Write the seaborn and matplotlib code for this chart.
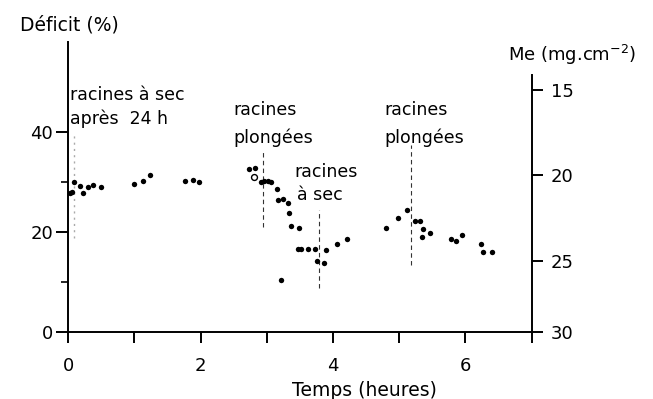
import numpy as np
import pandas as pd
import matplotlib
matplotlib.use("Agg")
import matplotlib.pyplot as plt
import seaborn as sns

# ---- data ----
time_h = [0.02, 0.05, 0.08, 0.18, 0.22, 0.30, 0.37, 0.50, 1.00, 1.13, 1.24, 1.77, 1.88, 1.98,
          2.73, 2.82, 2.91, 2.96, 3.01, 3.06, 3.15, 3.17, 3.24, 3.32, 3.34, 3.37, 3.48, 3.22,
          3.47, 3.52, 3.62, 3.72, 3.76, 3.86, 3.90, 4.06, 4.21, 4.80, 4.98, 5.12, 5.23, 5.32,
          5.36, 5.34, 5.46, 5.78, 5.86, 5.95, 6.23, 6.27, 6.40]
deficit = [27.7, 27.9, 29.9, 29.1, 27.7, 28.9, 29.4, 28.9, 29.5, 30.1, 31.3, 30.1, 30.3, 29.9,
           32.5, 32.7, 29.9, 30.1, 30.1, 29.9, 28.6, 26.3, 26.5, 25.7, 23.7, 21.1, 20.7, 10.3,
           16.5, 16.5, 16.6, 16.6, 14.1, 13.8, 16.3, 17.5, 18.5, 20.7, 22.8, 24.3, 22.1, 22.1,
           20.5, 19.0, 19.7, 18.5, 18.2, 19.4, 17.5, 16.0, 16.0]
open_time = [2.80]
open_deficit = [31.0]

event_time = [0.09, 2.94, 3.79, 5.17]
event_low = [18.7, 21.0, 8.7, 13.3]
event_high = [39.7, 36.3, 24.3, 37.3]

me_labels = ["30", "25", "20", "15"]
me_as_deficit = [0.0, 14.2, 31.3, 48.3]

x_ticks = [0, 1, 2, 3, 4, 5, 6, 7]
x_ticklabels = ["0", "", "2", "", "4", "", "6", ""]
y_ticks = [0, 20, 40]
y_minor = [10, 30]

annotations = [
    ("racines à sec", 0.03, 47.3),
    ("après  24 h", 0.03, 42.7),
    ("racines", 2.49, 44.3),
    ("plongées", 2.49, 38.9),
    ("racines", 3.42, 31.9),
    ("à sec", 3.45, 27.3),
    ("racines", 4.78, 44.3),
    ("plongées", 4.78, 38.9),
]

df = pd.DataFrame({"t": time_h, "d": deficit})
df_open = pd.DataFrame({"t": open_time, "d": open_deficit})

sns.set_style("ticks")
plt.rcParams["font.family"] = ["DejaVu Sans"]
plt.rcParams["font.size"] = 12
for k in ["text.color", "axes.labelcolor", "xtick.color", "ytick.color", "axes.edgecolor"]:
    plt.rcParams[k] = "black"

fig = plt.figure(figsize=(6.53, 3.99), dpi=100)
ax = fig.add_axes([0.1046, 0.1687, 0.7096, 0.7261])

sns.scatterplot(data=df, x="t", y="d", ax=ax, color="black", s=15, edgecolor="black",
                linewidth=0, legend=False, zorder=3)
sns.scatterplot(data=df_open, x="t", y="d", ax=ax, marker="o", facecolor="white",
                edgecolor="black", s=18, linewidth=1.0, legend=False, zorder=3)

# event lines
ax.vlines(event_time[0], event_low[0], event_high[0], colors="#aaaaaa", linestyles=(0, (1.5, 3)),
          linewidth=1.0)
for xe, lo, hi in zip(event_time[1:], event_low[1:], event_high[1:]):
    ax.vlines(xe, lo, hi, colors="#333333", linestyles=(0, (4, 3)), linewidth=0.8)

for txt, xt, yt in annotations:
    ax.text(xt, yt, txt, ha="left", va="center", fontsize=12.5, color="black")

ax.set_xlim(0, 7)
ax.set_ylim(0, 58)
ax.set_xticks(x_ticks)
ax.set_xticklabels(x_ticklabels)
ax.set_yticks(y_ticks)
ax.set_yticks(y_minor, minor=True)
ax.set_xlabel("")
ax.set_ylabel("")

for s in ["top", "right"]:
    ax.spines[s].set_visible(False)
ax.spines["left"].set_linewidth(1.4)
ax.spines["bottom"].set_linewidth(1.4)
ax.spines["left"].set_bounds(0, 58)
ax.tick_params(axis="x", direction="out", length=8, width=1.4, pad=10, labelsize=13,
               colors="black")
ax.tick_params(axis="y", which="major", direction="out", length=9, width=1.4, pad=2,
               labelsize=13, colors="black")
ax.tick_params(axis="y", which="minor", direction="out", length=5, width=1.2, colors="black")

ax2 = ax.twinx()
ax2.set_ylim(0, 58)
ax2.set_yticks(me_as_deficit)
ax2.set_yticklabels(me_labels)
for s in ["top", "left", "bottom"]:
    ax2.spines[s].set_visible(False)
ax2.spines["right"].set_linewidth(1.4)
ax2.spines["right"].set_bounds(0, 51.3)
ax2.tick_params(axis="y", direction="out", length=8, width=1.4, pad=6, labelsize=13,
                colors="black")

fig.text(20 / 653, 1 - 25 / 399, "Déficit (%)", ha="left", va="center", fontsize=13.5,
         color="black")
fig.text(508 / 653, 1 - 55 / 399, "Me (mg.cm$^{-2}$)", ha="left", va="center", fontsize=13,
         color="black")
fig.text(364 / 653, 1 - 391 / 399, "Temps (heures)", ha="center", va="center", fontsize=13.5,
         color="black")

fig.savefig("out.png", dpi=100)
